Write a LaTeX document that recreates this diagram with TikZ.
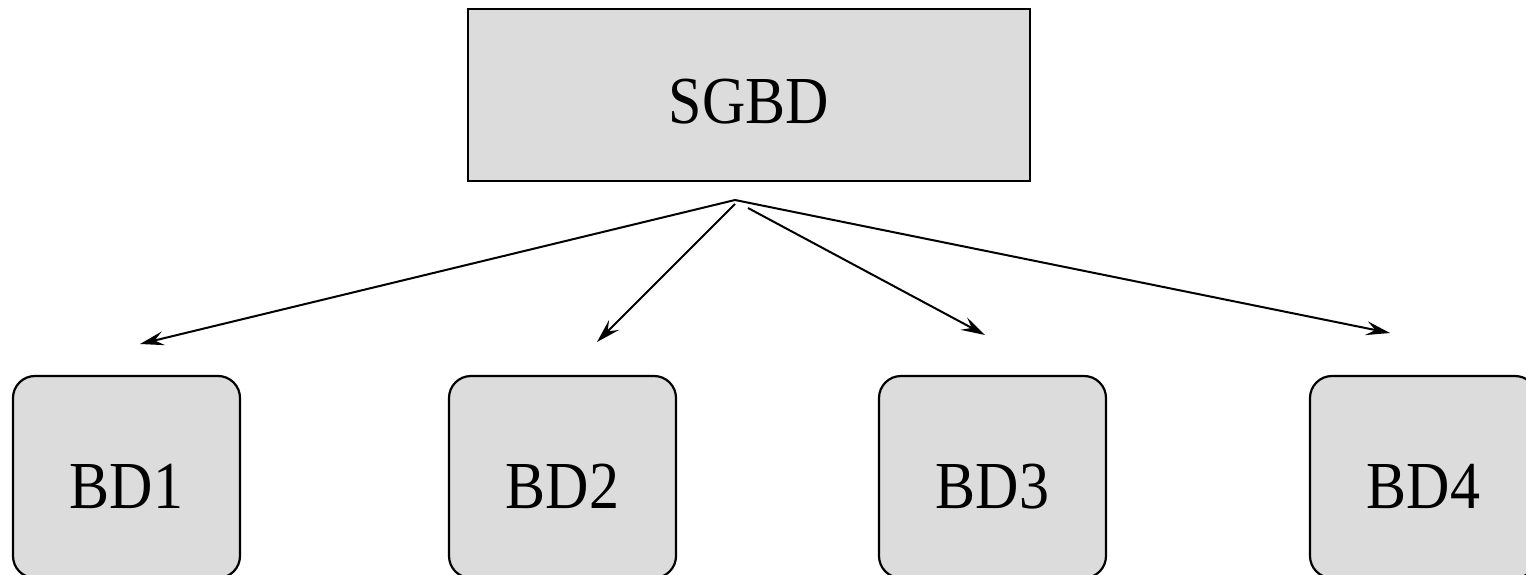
\documentclass[tikz,border=0pt]{standalone}
\usepackage{fontspec}
\setmainfont{Liberation Serif}
\usetikzlibrary{arrows.meta}
\definecolor{boxgray}{HTML}{DCDCDC}
\newcommand{\boxtext}[1]{\scalebox{1}[1.12]{\fontsize{60pt}{60pt}\selectfont #1}}
\tikzset{
  sgbdbox/.style={draw, line width=2.4pt, fill=boxgray, rectangle,
    minimum width=562pt, minimum height=172pt, inner sep=0pt,
    text height=58pt, text depth=0pt},
  bdbox/.style={draw, line width=2.2pt, fill=boxgray, rectangle, rounded corners=22pt,
    minimum width=227pt, minimum height=202pt, inner sep=0pt,
    text height=63pt, text depth=0pt},
  link/.style={line width=2pt, -{Stealth[length=24pt, width=14pt, inset=9pt]}}
}
\begin{document}
\begin{tikzpicture}[x=1pt, y=-1pt]
  \useasboundingbox (0,0) rectangle (1526,575);
  % database management system
  \node[sgbdbox] (sgbd) at (749,95) {\boxtext{SGBD}};
  % databases
  \node[bdbox] (bd1) at (126.5,477) {\boxtext{BD1}};
  \node[bdbox] (bd2) at (562.5,477) {\boxtext{BD2}};
  \node[bdbox] (bd3) at (992.5,477) {\boxtext{BD3}};
  \node[bdbox] (bd4) at (1423.5,477) {\boxtext{BD4}};
  % arrow origins below the system box and arrow tips above the databases
  \coordinate (o) at (735,200);
  \coordinate (o2) at (735,204);
  \coordinate (o3) at (748,208);
  \coordinate (t1) at (140,344);
  \coordinate (t2) at (597,342);
  \coordinate (t3) at (985,335);
  \coordinate (t4) at (1390,333);
  \draw[link] (o) -- (t1);
  \draw[link] (o2) -- (t2);
  \draw[link] (o3) -- (t3);
  \draw[link] (o) -- (t4);
\end{tikzpicture}
\end{document}
